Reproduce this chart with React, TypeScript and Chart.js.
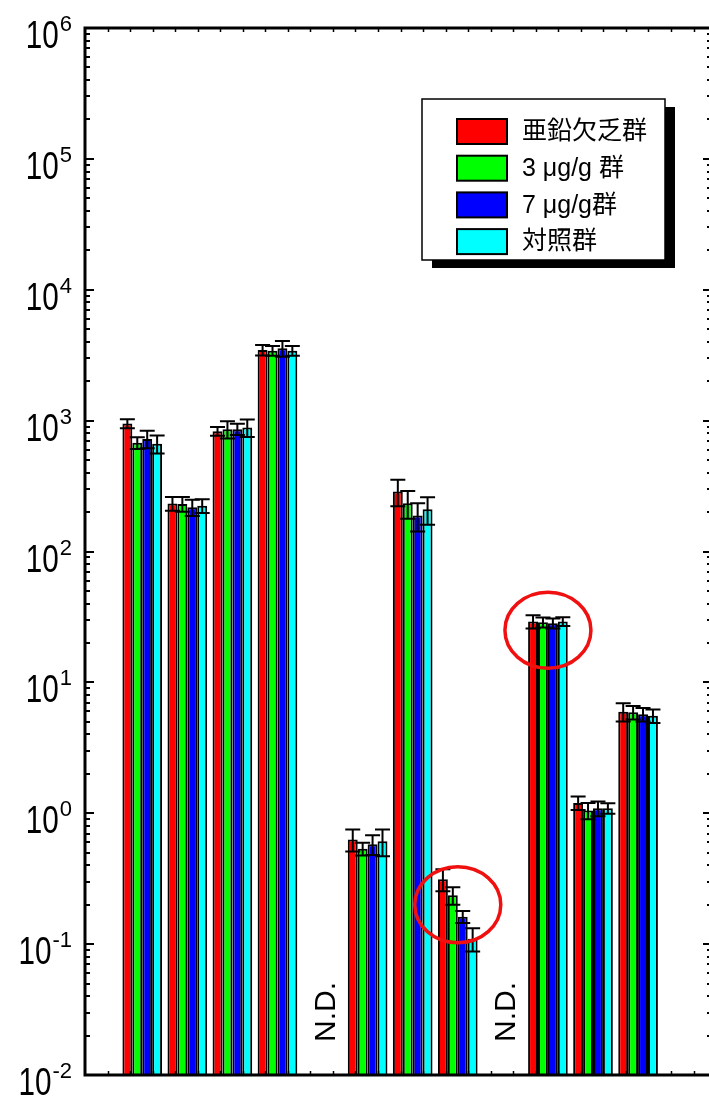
import React, { useEffect, useRef } from "react";
import { Chart, registerables } from "chart.js";

Chart.register(...registerables);

// ---- data ----
const categories = ["1", "2", "3", "4", "5", "6", "7", "8", "9", "10", "11", "12"];
const seriesNames = ["亜鉛欠乏群", "3 μg/g 群", "7 μg/g群", "対照群"];
const seriesColors = ["#ff0000", "#00ff00", "#0000ff", "#00ffff"];

const zincDeficient = [950, 233, 830, 3460, null, 0.63, 288, 0.313, null, 29.2, 1.2, 5.97];
const dose3 = [678, 231, 860, 3420, null, 0.535, 234, 0.236, null, 28.8, 1.05, 5.9];
const dose7 = [725, 218, 860, 3570, null, 0.58, 188, 0.162, null, 28.3, 1.09, 5.7];
const control = [665, 224, 885, 3425, null, 0.61, 210, 0.11, null, 29.2, 1.09, 5.55];

const zincDeficientErr = [75, 28, 65, 320, null, 0.12, 66, 0.06, null, 3.4, 0.14, 0.95];
const dose3Err = [70, 30, 130, 290, null, 0.06, 56, 0.036, null, 2.5, 0.15, 0.7];
const dose7Err = [110, 31, 85, 490, null, 0.1, 46, 0.017, null, 2.5, 0.14, 0.67];
const controlErr = [105, 27, 135, 290, null, 0.14, 50, 0.022, null, 2.2, 0.1, 0.65];

const yTickExponents = [-2, -1, 0, 1, 2, 3, 4, 5, 6];
const ndText = "N.D.";
const highlightGroups = [8, 10];
const highlightValues = [0.2, 25];

const seriesValues = [zincDeficient, dose3, dose7, control];
const seriesErrors = [zincDeficientErr, dose3Err, dose7Err, controlErr];

const LATIN = '"Liberation Sans", Arial, "Noto Sans CJK JP", sans-serif';

const decorPlugin = {
  id: "decor",
  afterDatasetsDraw(chart: any) {
    const ctx = chart.ctx;
    const ys = chart.scales.y;
    ctx.save();
    ctx.strokeStyle = "#000";
    ctx.lineWidth = 2;
    seriesValues.forEach((vals, di) => {
      const meta = chart.getDatasetMeta(di);
      vals.forEach((v, i) => {
        if (v == null) return;
        const e = seriesErrors[di][i] as number;
        const el = meta.data[i];
        if (!el) return;
        const x = el.x;
        const yt = ys.getPixelForValue(v + e);
        const yb = ys.getPixelForValue(Math.max(v - e, 1e-3));
        const cw = 7.5;
        ctx.beginPath();
        ctx.moveTo(x, yt);
        ctx.lineTo(x, yb);
        ctx.moveTo(x - cw, yt);
        ctx.lineTo(x + cw, yt);
        ctx.moveTo(x - cw, yb);
        ctx.lineTo(x + cw, yb);
        ctx.stroke();
      });
    });
    ctx.restore();
  },
  afterDraw(chart: any) {
    const ctx = chart.ctx;
    const xs = chart.scales.x;
    const ys = chart.scales.y;
    const { left, right, top, bottom } = chart.chartArea;
    ctx.save();

    // frame
    ctx.strokeStyle = "#000";
    ctx.lineWidth = 3;
    ctx.beginPath();
    ctx.moveTo(left, top);
    ctx.lineTo(right, top);
    ctx.moveTo(left, top - 1.5);
    ctx.lineTo(left, bottom + 1.5);
    ctx.moveTo(left, bottom);
    ctx.lineTo(right, bottom);
    ctx.moveTo(right, top);
    ctx.lineTo(right, bottom);
    ctx.stroke();

    // y ticks
    ctx.lineWidth = 2;
    ctx.beginPath();
    for (let k = yTickExponents[0]; k < yTickExponents[yTickExponents.length - 1]; k++) {
      for (let m = 1; m <= 9; m++) {
        const v = m * Math.pow(10, k);
        const y = Math.round(ys.getPixelForValue(v));
        const len = m === 1 ? 9 : 5;
        if (m === 1 && k === yTickExponents[0]) continue;
        ctx.moveTo(left, y);
        ctx.lineTo(left + len, y);
        ctx.moveTo(right, y);
        ctx.lineTo(right - len, y);
      }
    }
    ctx.stroke();

    // x ticks (top and bottom)
    ctx.lineWidth = 1.5;
    ctx.beginPath();
    for (let v = xs.min + 0.5; v < xs.max; v += 0.5) {
      const x = Math.round(xs.getPixelForValue(v)) + 0.5;
      ctx.moveTo(x, top);
      ctx.lineTo(x, top + 4);
      ctx.moveTo(x, bottom);
      ctx.lineTo(x, bottom - 4);
    }
    ctx.stroke();

    // y tick labels 10^k
    ctx.fillStyle = "#000";
    ctx.textBaseline = "alphabetic";
    yTickExponents.forEach((k) => {
      const y = ys.getPixelForValue(Math.pow(10, k));
      const sup = String(k);
      const rightX = left - 13;
      ctx.font = `22px ${LATIN}`;
      const sw = ctx.measureText(sup).width;
      ctx.textAlign = "right";
      ctx.fillText(sup, rightX, y + 3);
      ctx.save();
      ctx.translate(rightX - sw - 1, y + 20);
      ctx.scale(0.78, 1);
      ctx.font = `38px ${LATIN}`;
      ctx.fillText("10", 0, 0);
      ctx.restore();
    });

    // N.D. labels
    categories.forEach((c, i) => {
      const allNull = seriesValues.every((s) => s[i] == null);
      if (!allNull) return;
      const x = xs.getPixelForValue(i + 1);
      ctx.save();
      ctx.translate(x + 12.5, bottom - 33);
      ctx.rotate(-Math.PI / 2);
      ctx.font = `30px ${LATIN}`;
      ctx.textAlign = "left";
      ctx.fillText(ndText, 0, 0);
      ctx.restore();
    });

    // legend
    const bx = 422, by = 99, bw = 243, bh = 161;
    ctx.fillStyle = "#000";
    ctx.fillRect(bx + 10, by + 8, bw, bh);
    ctx.fillStyle = "#fff";
    ctx.fillRect(bx, by, bw, bh);
    ctx.lineWidth = 1.5;
    ctx.strokeStyle = "#000";
    ctx.strokeRect(bx, by, bw, bh);
    seriesNames.forEach((name, i) => {
      const sy = by + 20 + i * 36.7;
      ctx.fillStyle = seriesColors[i];
      ctx.fillRect(bx + 35, sy, 50, 25);
      ctx.lineWidth = 2;
      ctx.strokeRect(bx + 35, sy, 50, 25);
      ctx.fillStyle = "#000";
      ctx.font = `25px ${LATIN}`;
      ctx.textAlign = "left";
      ctx.textBaseline = "middle";
      ctx.fillText(name, bx + 100, sy + 13.5);
    });

    // highlight ellipses
    ctx.strokeStyle = "#f01010";
    ctx.lineWidth = 3.5;
    highlightGroups.forEach((g, i) => {
      const cx = xs.getPixelForValue(g);
      const cy = ys.getPixelForValue(highlightValues[i]);
      ctx.beginPath();
      ctx.ellipse(cx, cy, 43, 38, 0, 0, Math.PI * 2);
      ctx.stroke();
    });

    ctx.restore();
  },
};

export default function App() {
  const ref = useRef<HTMLCanvasElement>(null);
  useEffect(() => {
    const canvas = ref.current;
    if (!canvas) return;
    const chart = new Chart(canvas, {
      type: "bar",
      data: {
        datasets: seriesValues.map((vals, di) => ({
          label: seriesNames[di],
          data: categories.map((c, i) => ({ x: i + 1, y: vals[i] })),
          backgroundColor: seriesColors[di],
          borderColor: "#000",
          borderWidth: 2,
          categoryPercentage: 0.88,
          barPercentage: 1.0,
        })),
      } as any,
      options: {
        animation: false,
        responsive: false,
        maintainAspectRatio: false,
        devicePixelRatio: 1,
        layout: { padding: { left: 85, top: 28, right: 8, bottom: 25 } },
        plugins: { legend: { display: false }, tooltip: { enabled: false } },
        scales: {
          x: { type: "linear", min: -0.27, max: 13.64, offset: false, display: false },
          y: { type: "logarithmic", min: 0.01, max: 1e6, display: false },
        },
      } as any,
      plugins: [decorPlugin],
    });
    return () => chart.destroy();
  }, []);
  return (
    <div
      style={{
        position: "absolute",
        left: 0,
        top: 0,
        width: 709,
        height: 1100,
        overflow: "hidden",
        background: "#fff",
      }}
    >
      <canvas ref={ref} width={720} height={1100} style={{ display: "block", width: 720, height: 1100 }} />
    </div>
  );
}
